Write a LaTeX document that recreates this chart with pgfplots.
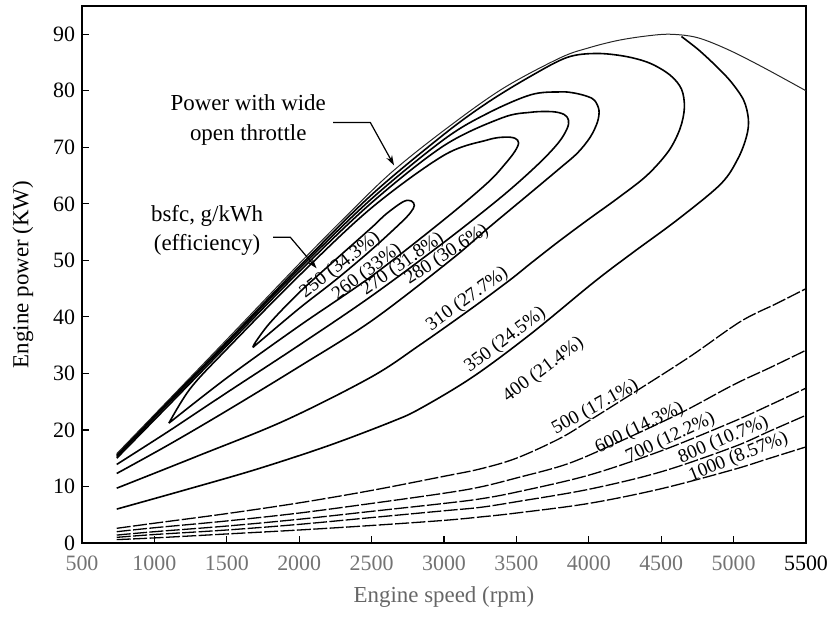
\documentclass[border=0pt]{standalone}
\usepackage{pgfplots}
\pgfplotsset{compat=1.18}
\usepackage{fontspec}
\setmainfont{Liberation Serif}
\usetikzlibrary{arrows.meta}
\definecolor{tickgray}{gray}{0.45}
\definecolor{labgray}{gray}{0.4}

\begin{document}
\begin{tikzpicture}
\begin{axis}[
  scale only axis, width=362bp, height=268.5bp,
  xmin=500, xmax=5500, ymin=0, ymax=95,
  xtick={500,1000,...,5500},
  xticklabels={{\color{tickgray}500},{\color{tickgray}1000},{\color{tickgray}1500},
    {\color{tickgray}2000},{\color{tickgray}2500},{\color{tickgray}3000},
    {\color{tickgray}3500},{\color{tickgray}4000},{\color{tickgray}4500},
    {\color{tickgray}5000},5500},
  ytick={0,10,...,90},
  tick pos=left, tick align=inside, major tick length=3.5bp,
  tick style={line width=0.6bp, black},
  axis line style={line width=1bp},
  ticklabel style={font=\fontsize{11}{13}\selectfont},
  /pgf/number format/assume math mode=true,
  xticklabel style={yshift=-3bp},
  xlabel={Engine speed (rpm)},
  ylabel={Engine power (KW)},
  every axis x label/.style={at={(axis description cs:0.5,-0.1006)}, anchor=center,
    font=\fontsize{11.5}{14}\selectfont, text=labgray},
  every axis y label/.style={at={(axis description cs:-0.0815,0.5)}, rotate=90, anchor=center,
    font=\fontsize{11.5}{14}\selectfont},
  contour/.style={black, line width=0.8bp, smooth, tension=0.55},
  lowload/.style={black, line width=0.65bp, smooth, tension=0.55, dash pattern=on 7bp off 1.2bp},
]

% wide open throttle power
\addplot[black!85, line width=0.5bp, smooth, tension=0.55] coordinates {
 (740,15.8) (1000,22.7) (1500,36.0) (2000,49.4) (2300,57.2) (2630,65.4) (3000,73.0)
 (3400,80.3) (3800,85.8) (4000,87.6) (4200,88.9) (4400,89.7) (4565,90.0) (4750,89.4)
 (4960,87.3) (5200,84.2) (5500,80.0)};

% 250 g/kWh island
\addplot[contour] coordinates {
 (1680,34.6) (2000,41.5) (2250,46.5) (2500,51.9) (2700,56.6) (2770,58.5) (2795,59.7)
 (2775,60.5) (2720,60.4) (2600,58.2) (2500,55.8) (2250,50.1) (2000,44.3) (1800,39.0)
 (1700,35.6) (1680,34.6)};

% 260 g/kWh
\addplot[contour] coordinates {
 (1100,21.2) (1500,29.2) (2000,38.4) (2500,47.2) (3000,57.2) (3300,63.7) (3420,67.0)
 (3490,69.3) (3515,70.8) (3490,71.6) (3420,71.8) (3300,71.3) (3000,68.6) (2500,59.3)
 (2000,47.3) (1500,34.3) (1250,27.4) (1100,21.2)};

% 270 g/kWh
\addplot[contour] coordinates {
 (740,13.9) (1100,19.8) (1500,26.6) (2000,35.0) (2500,43.7) (3000,53.2) (3400,61.3)
 (3650,67.0) (3790,70.8) (3850,73.3) (3860,74.8) (3830,75.8) (3750,76.3) (3600,76.2)
 (3400,75.2) (3000,70.3) (2500,60.2) (2000,48.0) (1500,34.9) (1100,24.4) (740,15.0)};

% 280 g/kWh
\addplot[contour] coordinates {
 (740,12.3) (1100,17.4) (1500,23.4) (2000,31.2) (2500,39.3) (3044,50.0) (3300,55.6)
 (3600,62.0) (3805,66.4) (3922,69.0) (4010,71.8) (4060,74.5) (4070,76.6) (4040,78.3)
 (3991,79.0) (3900,79.6) (3805,79.8) (3600,79.3) (3300,76.0) (3000,71.4) (2500,60.9)
 (2000,48.5) (1500,35.3) (1100,24.8) (740,15.3)};

% 310 g/kWh
\addplot[contour] coordinates {
 (740,9.7) (1300,15.4) (1904,21.7) (2500,29.4) (2837,35.1) (3196,41.6) (3459,46.6)
 (3600,49.5) (3800,53.5) (4000,57.3) (4200,61.0) (4400,65.0) (4550,69.3) (4630,73.3)
 (4660,77.0) (4640,80.3) (4560,82.8) (4420,84.9) (4250,86.1) (4050,86.6) (3850,85.9)
 (3600,82.6) (3300,77.9) (3000,72.3) (2500,61.6) (2000,48.9) (1500,35.6) (1100,25.1)
 (740,15.5)};

% 350 g/kWh
\addplot[contour] coordinates {
 (740,6.0) (1200,9.3) (1700,13.0) (2200,17.2) (2643,21.5) (2837,23.8) (3200,29.4)
 (3600,37.0) (4033,46.1) (4300,51.3) (4613,57.2) (4911,63.5) (5030,68.0) (5090,72.0)
 (5102,75.0) (5070,78.3) (4985,81.5) (4890,84.1) (4760,87.2) (4640,89.6)};

% part-load contours
\addplot[lowload] coordinates {
 (740,2.6) (1000,3.5) (1500,5.2) (2000,7.1) (2500,9.3) (3000,11.8) (3249,13.1)
 (3500,15.0) (3800,18.5) (4000,21.6) (4335,27.0) (4700,33.0) (5049,39.2) (5300,42.4)
 (5500,45.0)};
\addplot[lowload] coordinates {
 (740,2.0) (1000,2.7) (1500,3.9) (2000,5.3) (2500,7.0) (3000,8.8) (3249,9.9)
 (3500,11.5) (3853,14.0) (4200,17.8) (4634,23.0) (5000,28.0) (5250,31.0) (5500,34.1)};
\addplot[lowload] coordinates {
 (740,1.4) (1000,2.0) (1500,3.0) (2000,4.2) (2500,5.6) (3000,7.0) (3249,7.8)
 (3500,9.0) (4000,12.0) (4500,16.3) (5000,21.5) (5250,24.4) (5500,27.4)};
\addplot[lowload] coordinates {
 (740,1.0) (1000,1.5) (1500,2.3) (2000,3.3) (2500,4.5) (3000,5.7) (3249,6.3)
 (3500,7.3) (4000,9.5) (4500,12.6) (5000,17.0) (5250,19.8) (5500,22.6)};
\addplot[lowload] coordinates {
 (740,0.6) (1000,0.9) (1500,1.6) (2000,2.3) (2500,3.1) (3000,4.0) (3249,4.6)
 (3500,5.3) (4000,7.0) (4500,9.6) (5000,13.0) (5250,15.0) (5500,17.0)};

% contour labels
\begin{scope}[every node/.style={font=\fontsize{9.6}{11}\selectfont, inner sep=0pt}]
\node[rotate=38] at (axis cs:2284,49.1) {250 (34.3\%)};
\node[rotate=37] at (axis cs:2470,47.9) {260 (33\%)};
\node[rotate=35] at (axis cs:2715,49.3) {270 (31.8\%)};
\node[rotate=33] at (axis cs:3020,51.0) {280 (30.6\%)};
\node[rotate=36] at (axis cs:3162,43.1) {310 (27.7\%)};
\node[rotate=37] at (axis cs:3424,35.9) {350 (24.5\%)};
\node[rotate=37] at (axis cs:3687,30.6) {400 (21.4\%)};
\node[rotate=29] at (axis cs:4046,24.0) {500 (17.1\%)};
\node[rotate=26] at (axis cs:4351,20.3) {600 (14.3\%)};
\node[rotate=25] at (axis cs:4565,18.6) {700 (12.2\%)};
\node[rotate=23] at (axis cs:4931,18.2) {800 (10.7\%)};
\node[rotate=22] at (axis cs:5035,15.2) {1000 (8.57\%)};
\end{scope}

% callouts
\node[align=center, font=\fontsize{11.5}{15}\selectfont] at (axis cs:1648,74.9)
  {Power with wide\\open throttle};
\draw[line width=0.6bp, -{Stealth[length=5bp,width=3.2bp]}]
  (axis cs:2235,74.4) -- (axis cs:2491,74.4) -- (axis cs:2655,66.8);
\node[align=center, font=\fontsize{11.5}{15}\selectfont] at (axis cs:1364,55.3)
  {bsfc, g/kWh\\(efficiency)};
\draw[line width=0.6bp, -{Stealth[length=5bp,width=3.2bp]}]
  (axis cs:1820,54.1) -- (axis cs:1938,54.1) -- (axis cs:2120,48.6);
\end{axis}
\pgfresetboundingbox
\useasboundingbox ([shift={(-41bp,-37bp)}]current axis.south west)
  rectangle ([shift={(11.5bp,3bp)}]current axis.north east);
\end{tikzpicture}
\end{document}
